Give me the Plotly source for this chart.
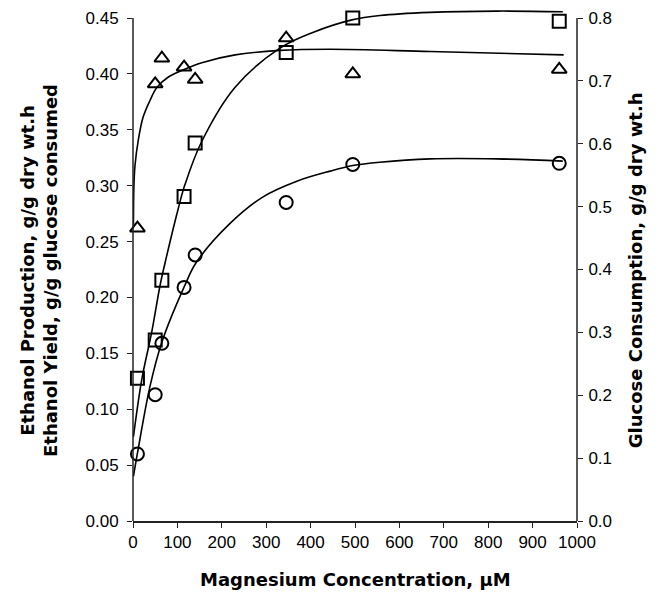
import plotly.graph_objects as go

# Measured data points
mg_conc = [10, 50, 65, 115, 140, 345, 495, 960]
ethanol_yield = [0.262, 0.391, 0.414, 0.406, 0.395, 0.432, 0.400, 0.404]        # triangles, left axis
ethanol_production = [0.060, 0.113, 0.159, 0.209, 0.238, 0.285, 0.319, 0.320]   # circles, left axis
glucose_consumption = [0.227, 0.288, 0.383, 0.516, 0.601, 0.745, 0.800, 0.795]  # squares, right axis

# Fitted trend curves
yield_fit_x = [1, 2, 4.5, 12, 22.5, 38, 54, 79, 110, 155, 230, 331, 444, 669, 970]
yield_fit_y = [0.265, 0.299, 0.318, 0.341, 0.361, 0.376, 0.388, 0.397, 0.403, 0.410, 0.417, 0.421, 0.422, 0.420, 0.417]

prod_fit_x = [1, 10.6, 38, 65, 117, 142, 218, 293, 369, 444, 495, 556, 669, 820, 968]
prod_fit_y = [0.040, 0.062, 0.120, 0.160, 0.211, 0.231, 0.266, 0.290, 0.304, 0.313, 0.318, 0.321, 0.324, 0.324, 0.322]

gluc_fit_x = [1, 20, 42, 61, 72, 102, 117, 155, 230, 331, 405, 493, 556, 669, 820, 968]
gluc_fit_y = [0.134, 0.226, 0.300, 0.375, 0.410, 0.497, 0.535, 0.604, 0.690, 0.752, 0.777, 0.797, 0.804, 0.809, 0.811, 0.810]

x_ticks = list(range(0, 1001, 100))
left_ticks = [round(0.05 * i, 2) for i in range(10)]
right_ticks = [round(0.1 * i, 1) for i in range(9)]

TICK_FONT = "Liberation Sans, Arial, sans-serif"
TITLE_FONT = "DejaVu Sans, Arial, sans-serif"
line_style = dict(color="black", width=1.6, shape="spline", smoothing=1.0)

fig = go.Figure()
fig.add_trace(go.Scatter(x=yield_fit_x, y=yield_fit_y, mode="lines", line=line_style,
                         showlegend=False, hoverinfo="skip"))
fig.add_trace(go.Scatter(x=prod_fit_x, y=prod_fit_y, mode="lines", line=line_style,
                         showlegend=False, hoverinfo="skip"))
fig.add_trace(go.Scatter(x=gluc_fit_x, y=gluc_fit_y, mode="lines", line=line_style,
                         yaxis="y2", showlegend=False, hoverinfo="skip"))

marker_line = dict(width=2, color="black")
fig.add_trace(go.Scatter(x=mg_conc, y=ethanol_yield, mode="markers", name="Ethanol Yield",
                         cliponaxis=False,
                         marker=dict(symbol="triangle-up-open", size=13, color="black",
                                     line=marker_line), showlegend=False))
fig.add_trace(go.Scatter(x=mg_conc, y=ethanol_production, mode="markers", name="Ethanol Production",
                         cliponaxis=False,
                         marker=dict(symbol="circle-open", size=13, color="black",
                                     line=marker_line), showlegend=False))
fig.add_trace(go.Scatter(x=mg_conc, y=glucose_consumption, mode="markers", name="Glucose Consumption",
                         yaxis="y2", cliponaxis=False,
                         marker=dict(symbol="square-open", size=13, color="black",
                                     line=marker_line), showlegend=False))

axis_common = dict(showgrid=False, zeroline=False, ticks="outside", tickcolor="#222", ticklen=5,
                   tickfont=dict(family=TICK_FONT, size=17, color="black"), automargin=False)

# plot area: 512 px tall; top ticks (0.45 / 0.8) sit 503 px above the baseline
Y_TOP = 0.45 * 512 / 503
Y2_TOP = 0.8 * 512 / 503

fig.update_layout(
    width=652, height=586,
    margin=dict(l=125, r=83, t=1, b=73),
    paper_bgcolor="white", plot_bgcolor="white",
    xaxis=dict(range=[0, 1000], tickvals=x_ticks, showline=True, linecolor="#222",
               linewidth=1.5, **axis_common),
    yaxis=dict(range=[0, Y_TOP], tickvals=left_ticks, tickformat=".2f", showline=False,
               ticklabelstandoff=5, **axis_common),
    yaxis2=dict(range=[0, Y2_TOP], tickvals=right_ticks, tickformat=".1f", overlaying="y",
                side="right", showline=False, ticklabelstandoff=2, **axis_common),
    shapes=[
        dict(type="line", xref="paper", yref="y", x0=0, x1=0, y0=0, y1=0.45,
             line=dict(color="#222", width=1.5)),
        dict(type="line", xref="paper", yref="y", x0=1, x1=1, y0=0, y1=0.45,
             line=dict(color="#222", width=1.5)),
    ],
    annotations=[
        dict(text="<b>Magnesium Concentration, µM</b>", xref="paper", yref="paper",
             x=0.5, y=-0.115, xanchor="center", yanchor="middle", showarrow=False,
             font=dict(family=TITLE_FONT, size=18, color="black")),
        dict(text="<b>Ethanol Production, g/g dry wt.h<br>Ethanol Yield, g/g glucose consumed</b>",
             xref="paper", yref="paper", x=-0.212, y=0.49, textangle=-90,
             xanchor="center", yanchor="middle", showarrow=False,
             font=dict(family=TITLE_FONT, size=18, color="black")),
        dict(text="<b>Glucose Consumption, g/g dry wt.h</b>",
             xref="paper", yref="paper", x=1.131, y=0.49, textangle=-90,
             xanchor="center", yanchor="middle", showarrow=False,
             font=dict(family=TITLE_FONT, size=18, color="black")),
    ],
)

fig.write_html("out.html")
